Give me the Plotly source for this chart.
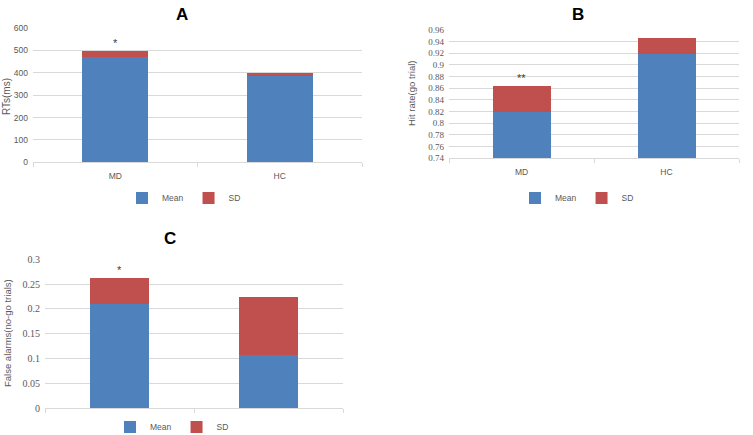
import plotly.graph_objects as go

categories = ["MD", "HC"]
series_names = ["Mean", "SD"]

rt_mean = [469, 384]
rt_sd = [27, 13]

hit_mean = [0.820, 0.918]
hit_sd = [0.044, 0.028]

fa_mean = [0.210, 0.107]
fa_sd = [0.052, 0.117]

panel_titles = ["A", "B", "C"]
y_titles = ["RTs(ms)", "Hit rate(go trial)", "False alarms(no-go trials)"]
sig_marks = ["*", "**", "*"]

BLUE = "#4F81BD"
RED = "#C0504D"
GRID = "#D9D9D9"
TXT = "#595959"

W, H = 753, 435

fig = go.Figure()

panels = [
    dict(mean=rt_mean, sd=rt_sd, xa="x", ya="y", legend="legend"),
    dict(mean=hit_mean, sd=hit_sd, xa="x2", ya="y2", legend="legend2"),
    dict(mean=fa_mean, sd=fa_sd, xa="x3", ya="y3", legend="legend3"),
]

for p in panels:
    fig.add_trace(go.Bar(x=categories, y=p["mean"], name=series_names[0],
                         marker=dict(color=BLUE, line=dict(width=0)),
                         xaxis=p["xa"], yaxis=p["ya"], legend=p["legend"], width=0.4))
    fig.add_trace(go.Bar(x=categories, y=p["sd"], name=series_names[1],
                         marker=dict(color=RED, line=dict(width=0)),
                         xaxis=p["xa"], yaxis=p["ya"], legend=p["legend"], width=0.4))

def px_x(px):
    return px / W

def px_y(px):
    return 1 - px / H

def yax(fs, fam):
    return dict(showgrid=True, gridcolor=GRID, gridwidth=1, zeroline=False,
                showline=False, ticks="", automargin=False,
                tickfont=dict(size=fs, color=TXT, family=fam), ticklabelstandoff=4)

common_x = dict(showgrid=False, showline=True, linecolor=GRID, linewidth=1,
                ticks="outside", tickson="boundaries", ticklen=4, tickcolor=GRID,
                tickfont=dict(size=8.5, color=TXT, family="Liberation Sans"),
                ticklabelstandoff=5, automargin=False)

leg_common = dict(orientation="h", xanchor="center", yanchor="middle",
                  font=dict(size=8.5, color=TXT), itemwidth=30, bgcolor="rgba(0,0,0,0)",
                  traceorder="normal", tracegroupgap=0)

fig.update_layout(
    width=W, height=H,
    margin=dict(l=0, r=0, t=0, b=0, autoexpand=False),
    paper_bgcolor="white", plot_bgcolor="white",
    barmode="stack",
    font=dict(family="Liberation Sans", color=TXT),
    xaxis=dict(domain=[px_x(33), px_x(362)], anchor="y", **common_x),
    yaxis=dict(domain=[px_y(162.3), px_y(28)], anchor="x", range=[0, 600], dtick=100,
               **yax(8.5, "Liberation Sans")),
    xaxis2=dict(domain=[px_x(449), px_x(739)], anchor="y2", **common_x),
    yaxis2=dict(domain=[px_y(158.3), px_y(29.7)], anchor="x2", range=[0.74, 0.96], dtick=0.02,
                tickformat="~g", **yax(9, "Liberation Serif")),
    xaxis3=dict(domain=[px_x(45), px_x(343)], anchor="y3", **{**common_x, "showticklabels": False}),
    yaxis3=dict(domain=[px_y(408), px_y(259.3)], anchor="x3", range=[0, 0.3], dtick=0.05,
                tickformat="~g", **yax(10, "Liberation Serif")),
    legend=dict(x=px_x(184), y=px_y(198), **leg_common),
    legend2=dict(x=px_x(577), y=px_y(198), **leg_common),
    legend3=dict(x=px_x(172), y=px_y(427), **leg_common),
    showlegend=True,
)

# Panel titles
title_pos = [(182, 14), (578, 14), (170, 238)]
for t, (tx, ty) in zip(panel_titles, title_pos):
    fig.add_annotation(text=f"<b>{t}</b>", x=px_x(tx), y=px_y(ty), xref="paper", yref="paper",
                       showarrow=False, font=dict(size=17, color="black", family="Liberation Sans"),
                       xanchor="center", yanchor="middle")

# Y axis titles
ytitle_pos = [(6, 97, 10), (412, 93, 9.5), (7, 333, 9.5)]
for t, (tx, ty, fs) in zip(y_titles, ytitle_pos):
    fig.add_annotation(text=t, x=px_x(tx), y=px_y(ty), xref="paper", yref="paper",
                       showarrow=False, textangle=-90,
                       font=dict(size=fs, color=TXT, family="Liberation Sans"),
                       xanchor="center", yanchor="middle")

# Significance marks
totals = [rt_mean[0] + rt_sd[0], hit_mean[0] + hit_sd[0], fa_mean[0] + fa_sd[0]]
refs = [("x", "y"), ("x2", "y2"), ("x3", "y3")]
for m, tot, (xr, yr) in zip(sig_marks, totals, refs):
    fig.add_annotation(text=m, x=categories[0], y=tot, xref=xr, yref=yr, showarrow=False,
                       yanchor="bottom", yshift=0, font=dict(size=11, color="#404040"))

fig.write_html("out.html", config={"displayModeBar": False},
               post_script="document.body.style.margin='0';document.body.style.overflow='hidden';")
